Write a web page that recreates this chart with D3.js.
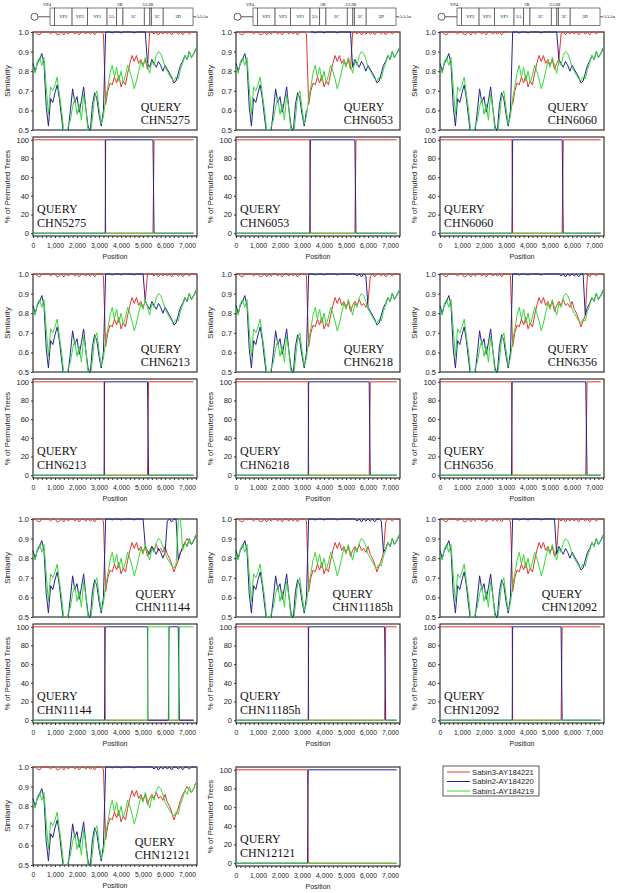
<!DOCTYPE html>
<html>
<head>
<meta charset="utf-8">
<script src="https://cdn.jsdelivr.net/npm/d3@7"></script>
<style>
  body { margin: 0; background: #fff; }
  svg { display: block; }
  text { font-family: "Liberation Sans", Arial, sans-serif; fill: #222; }
  .serif { font-family: "Liberation Serif", "Times New Roman", serif; fill: #111; }
</style>
</head>
<body>
<svg id="fig" width="619" height="893"></svg>
<script>
/// data ///
var parents = ['Sabin3-AY184221', 'Sabin2-AY184220', 'Sabin1-AY184219'];
var parentColors = ['#e2352f', '#23238f', '#38d838'];

var queries = ['CHN5275', 'CHN6053', 'CHN6060', 'CHN6213', 'CHN6218', 'CHN6356',
               'CHN11144', 'CHN11185h', 'CHN12092', 'CHN12121'];

// genome map (nt)
var regionNames  = ['VP4', 'VP2', 'VP3', 'VP1', '2A', '2B', '2C', '3A', '3B', '3C', '3D'];
var regionStarts = [743, 950, 1766, 2480, 3386, 3833, 4124, 5111, 5372, 5438, 5987];
var regionEnds   = [949, 1765, 2479, 3385, 3832, 4123, 5110, 5371, 5437, 5986, 7369];

// similarity scan, one value every 100 nt from 0 to 7400
var simPos = d3.range(0, 7401, 100);

// value when the query is identical to that parent (small dips near 1.0)
var identSim = [1, 1, 0.99, 0.985, 1, 1, 1, 1, 0.99, 1,
                1, 0.985, 0.99, 1, 0.985, 1, 0.99, 1, 1, 0.99,
                1, 0.985, 1, 1, 0.99, 1, 0.99, 1, 0.985, 1,
                1, 1, 0.99, 1, 1, 1, 0.995, 1, 1, 1,
                0.995, 1, 1, 1, 1, 1, 0.995, 1, 1, 1,
                1, 1, 1, 1, 1, 0.99, 1, 0.985, 1, 0.99,
                1, 0.99, 1, 0.985, 1, 1, 0.99, 1, 0.985, 1,
                1, 0.99, 1, 1, 1];

// values when not identical
var sabin3Sim = [null, null, null, null, null, null, null, null, null, null,
                 null, null, null, null, null, null, null, null, null, null,
                 null, null, null, null, null, null, null, null, null, null,
                 null, null, null, 0.63, 0.70, 0.74, 0.73, 0.77, 0.74, 0.78,
                 0.72, 0.75, 0.73, 0.79, 0.84, 0.88, 0.85, 0.88, 0.84, 0.86,
                 0.83, 0.86, 0.81, 0.84, 0.86, 0.84, 0.87, 0.84, 0.85, 0.83,
                 0.86, 0.82, 0.80, 0.77, 0.73, 0.76, 0.79, 0.83, 0.86, 0.88,
                 0.90, 0.88, 0.87, 0.89, 0.92];

var sabin2Sim = [0.84, 0.80, 0.84, 0.86, 0.89, 0.84, 0.62, 0.52, 0.66, 0.64,
                 0.69, 0.73, 0.66, 0.56, 0.47, 0.44, 0.50, 0.60, 0.71, 0.64,
                 0.67, 0.59, 0.65, 0.72, 0.61, 0.52, 0.49, 0.63, 0.69, 0.66,
                 0.58, 0.52, 0.60, null, null, null, null, null, null, null,
                 null, null, null, null, null, null, null, null, null, null,
                 0.84, 0.86, 0.84, 0.82, 0.86, 0.84, 0.82, 0.85, 0.83, 0.80,
                 0.83, 0.81, 0.79, 0.77, 0.74, 0.75, 0.79, 0.83, 0.85, 0.88,
                 0.86, 0.90, 0.87, 0.89, 0.91];

var sabin1Sim = [0.82, 0.79, 0.85, 0.87, 0.83, 0.87, 0.72, 0.58, 0.72, 0.70,
                 0.73, 0.77, 0.68, 0.60, 0.49, 0.45, 0.52, 0.55, 0.62, 0.66,
                 0.58, 0.63, 0.55, 0.68, 0.61, 0.49, 0.47, 0.56, 0.67, 0.70,
                 0.61, 0.53, 0.57, 0.66, 0.72, 0.79, 0.83, 0.77, 0.82, 0.75,
                 0.80, 0.74, 0.78, 0.83, 0.80, 0.76, 0.71, 0.75, 0.80, 0.85,
                 0.82, 0.87, 0.83, 0.79, 0.85, 0.83, 0.88, 0.90, 0.89, 0.86,
                 0.82, 0.80, 0.78, 0.76, 0.75, 0.77, 0.76, 0.81, 0.84, 0.88,
                 0.86, 0.90, 0.87, 0.89, 0.92];

var profiles = [sabin3Sim, sabin2Sim, sabin1Sim];

// [from, to, parent] stretches where the query is identical to a parent
var simSegs = [
  [[0, 3200, 0], [3300, 5100, 1], [5300, 7400, 0]],
  [[0, 3200, 0], [3400, 5200, 1], [5300, 7400, 0]],
  [[0, 3100, 0], [3300, 5300, 1], [5500, 7400, 0]],
  [[0, 3200, 0], [3300, 5000, 1], [5200, 7400, 0]],
  [[0, 3200, 0], [3300, 5900, 1], [6100, 7400, 0]],
  [[0, 3200, 0], [3300, 6500, 1], [6700, 7400, 0]],
  [[0, 3200, 0], [3300, 5000, 1], [6100, 6500, 1], [6600, 6700, 2]],
  [[0, 3200, 0], [3300, 6600, 1], [6800, 7400, 0]],
  [[0, 3200, 0], [3300, 5200, 1], [5400, 7400, 0]],
  [[0, 3200, 0], [3300, 7400, 1]]
];

// bootscan: [from, to, parent] with 100% support
var bootSegs = [
  [[0, 3280, 0], [3300, 5450, 1], [5500, 7300, 0]],
  [[0, 3350, 0], [3380, 5400, 1], [5450, 7300, 0]],
  [[0, 3270, 0], [3300, 5550, 1], [5600, 7300, 0]],
  [[0, 3230, 0], [3250, 5200, 1], [5250, 7300, 0]],
  [[0, 3280, 0], [3300, 6050, 1], [6100, 7300, 0]],
  [[0, 3250, 0], [3280, 6620, 1], [6680, 7300, 0]],
  [[0, 3250, 0], [3280, 5200, 1], [5220, 6150, 2], [6180, 6600, 1], [6650, 7300, 2]],
  [[0, 3280, 0], [3300, 6750, 1], [6800, 7300, 0]],
  [[0, 3280, 0], [3300, 5500, 1], [5550, 7300, 0]],
  [[0, 3250, 0], [3280, 7300, 1]]
];

var simTicks = [0.5, 0.6, 0.7, 0.8, 0.9, 1.0];
var bootTicks = [0, 20, 40, 60, 80, 100];
var posTicks = d3.range(0, 7401, 200);

/// layout ///
var colX = [33, 236, 440];
var rowY = [32, 274, 519, 767];
var W = 164, simH = 98, bootH = 99, bootGap = 105;

var svg = d3.select('#fig');

var x = d3.scaleLinear().domain([0, 7450]).range([0, W]);
var ySim = d3.scaleLinear().domain([0.5, 1.0]).range([simH, 0]);
var yBoot = d3.scaleLinear().domain([-3, 103]).range([bootH, 0]);

var clipN = 0;

function frame(g, h) {
    g.append('rect')
        .attr('width', W).attr('height', h)
        .attr('fill', 'none')
        .attr('stroke', '#333')
        .attr('stroke-width', 1.2);
    var id = 'clip' + (clipN++);
    g.append('clipPath').attr('id', id)
        .append('rect').attr('x', -1).attr('y', -1).attr('width', W + 2).attr('height', h + 2);
    return id;
}

function yAxis(g, scale, ticks, fmt, label, h) {
    var ax = g.append('g')
        .call(d3.axisLeft(scale).tickValues(ticks).tickSize(2).tickPadding(2).tickFormat(fmt));
    ax.select('.domain').remove();
    ax.attr('font-size', 7.5).attr('font-family', '"Liberation Sans", Arial, sans-serif').style('color', '#333');
    g.append('text')
        .attr('transform', 'translate(-23,' + (h / 2) + ') rotate(-90)')
        .attr('text-anchor', 'middle')
        .attr('font-size', 7.8)
        .text(label);
}

function xAxis(g, h) {
    var ax = g.append('g')
        .attr('transform', 'translate(0,' + h + ')')
        .call(d3.axisBottom(x).tickValues(posTicks).tickSize(2).tickPadding(5)
              .tickFormat(function(d) { return d % 1000 === 0 ? d3.format(',')(d) : ''; }));
    ax.select('.domain').remove();
    ax.attr('font-size', 6.8).attr('font-family', '"Liberation Sans", Arial, sans-serif').style('color', '#333');
    g.append('text')
        .attr('x', W / 2).attr('y', h + 23)
        .attr('text-anchor', 'middle')
        .attr('font-size', 7)
        .text('Position');
}

function inSeg(segs, pos, p) {
    return segs.some(function(s) { return s[2] === p && pos >= s[0] && pos <= s[1]; });
}

function drawSim(x0, y0, qi, withX) {
    var g = svg.append('g').attr('transform', 'translate(' + x0 + ',' + y0 + ')');
    var cid = frame(g, simH);
    yAxis(g, ySim, simTicks, d3.format('.1f'), 'Similarity', simH);
    if (withX) xAxis(g, simH);

    var line = d3.line()
        .defined(function(d) { return d[1] != null; })
        .x(function(d) { return x(d[0]); })
        .y(function(d) { return ySim(d[1]); });

    var lines = g.append('g').attr('clip-path', 'url(#' + cid + ')');
    [0, 1, 2].forEach(function(p) {
        var pts = simPos.map(function(pos, i) {
            return [pos, inSeg(simSegs[qi], pos, p) ? identSim[i] : profiles[p][i]];
        });
        lines.append('path')
            .attr('d', line(pts))
            .attr('fill', 'none')
            .attr('stroke', parentColors[p])
            .attr('stroke-width', 1);
    });

    // query label, bottom right
    var nm = g.append('text').attr('class', 'serif')
        .attr('x', W - 7).attr('y', 92)
        .attr('text-anchor', 'end')
        .attr('font-size', 12)
        .text(queries[qi]);
    var w = nm.node().getComputedTextLength();
    g.append('text').attr('class', 'serif')
        .attr('x', W - 7 - w).attr('y', 78.5)
        .attr('font-size', 12)
        .text('QUERY');
}

function drawBoot(x0, y0, qi) {
    var g = svg.append('g').attr('transform', 'translate(' + x0 + ',' + y0 + ')');
    var cid = frame(g, bootH);
    yAxis(g, yBoot, bootTicks, d3.format('d'), '% of Permuted Trees', bootH);
    xAxis(g, bootH);

    var line = d3.line()
        .x(function(d) { return x(d[0]); })
        .y(function(d) { return yBoot(d[1]); });

    var lines = g.append('g').attr('clip-path', 'url(#' + cid + ')');
    [0, 1, 2].forEach(function(p) {
        var pts = [];
        bootSegs[qi].forEach(function(s) {
            var v = s[2] === p ? 100 : 0;
            pts.push([s[0], v], [s[1], v]);
        });
        lines.append('path')
            .attr('d', line(pts))
            .attr('fill', 'none')
            .attr('stroke', parentColors[p])
            .attr('stroke-width', 1);
    });

    g.append('text').attr('class', 'serif')
        .attr('x', 4).attr('y', 76)
        .attr('font-size', 12)
        .text('QUERY');
    g.append('text').attr('class', 'serif')
        .attr('x', 4).attr('y', 90)
        .attr('font-size', 12)
        .text(queries[qi]);
}

function drawMap(x0) {
    var g = svg.append('g').attr('transform', 'translate(' + x0 + ',0)');
    var xm = d3.scaleLinear().domain([743, 7369]).range([17, 160]);
    var top = 8, bot = 25.5, mid = (top + bot) / 2;

    g.append('line').attr('x1', 5).attr('x2', xm(743)).attr('y1', mid).attr('y2', mid)
        .attr('stroke', '#333').attr('stroke-width', 0.8);
    g.append('circle').attr('cx', 1.5).attr('cy', mid).attr('r', 3.5)
        .attr('fill', '#fff').attr('stroke', '#333').attr('stroke-width', 0.8);
    g.append('line').attr('x1', xm(7369)).attr('x2', xm(7369) + 3).attr('y1', mid).attr('y2', mid)
        .attr('stroke', '#333').attr('stroke-width', 0.8);
    g.append('text').attr('class', 'serif')
        .attr('x', xm(7369) + 3).attr('y', mid + 1.5)
        .attr('font-size', 4.5)
        .text('AAAn');

    regionNames.forEach(function(n, i) {
        var a = xm(regionStarts[i]), b = xm(regionEnds[i] + 1);
        g.append('rect')
            .attr('x', a).attr('y', top).attr('width', b - a).attr('height', bot - top)
            .attr('fill', '#fff').attr('stroke', '#444').attr('stroke-width', 0.7);
        var above = (n === 'VP4' || n === '2B' || n === '3A' || n === '3B');
        if (!above) {
            g.append('text').attr('class', 'serif')
                .attr('x', (a + b) / 2).attr('y', mid + 1.7)
                .attr('text-anchor', 'middle')
                .attr('font-size', 4.6)
                .text(n);
        }
    });
    // labels above the small regions
    [['VP4', xm(743) - 3], ['2B', (xm(3833) + xm(4124)) / 2], ['3A3B', (xm(5111) + xm(5438)) / 2]]
        .forEach(function(l) {
            g.append('text').attr('class', 'serif')
                .attr('x', l[1]).attr('y', 5.5)
                .attr('text-anchor', 'middle')
                .attr('font-size', 4.6)
                .text(l[0]);
        });
}

/// draw ///
colX.forEach(function(cx) { drawMap(cx); });

for (var i = 0; i < 9; i++) {
    var r = Math.floor(i / 3), c = i % 3;
    drawSim(colX[c], rowY[r], i, false);
    drawBoot(colX[c], rowY[r] + bootGap, i);
}
// last query: similarity and bootscan side by side
drawSim(colX[0], rowY[3], 9, true);
drawBoot(colX[1], rowY[3], 9);

// legend
var lg = svg.append('g').attr('transform', 'translate(443,766)');
lg.append('rect').attr('width', 96).attr('height', 30)
    .attr('fill', '#fff').attr('stroke', '#333').attr('stroke-width', 0.8);
parents.forEach(function(p, i) {
    var yy = 6 + i * 9.5;
    lg.append('line').attr('x1', 4).attr('x2', 27).attr('y1', yy).attr('y2', yy)
        .attr('stroke', parentColors[i]).attr('stroke-width', 1);
    lg.append('text').attr('x', 29).attr('y', yy + 2.7)
        .attr('font-size', 7.7)
        .text(p);
});
</script>
</body>
</html>
